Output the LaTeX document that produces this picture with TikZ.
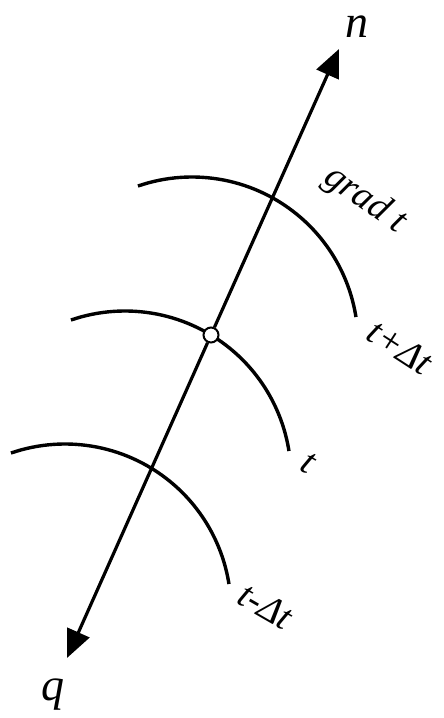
\documentclass[tikz,border=0pt]{standalone}
\usepackage{fontspec}
\setmainfont{Liberation Serif}
\usetikzlibrary{arrows.meta}
\begin{document}
\begin{tikzpicture}[x=1pt,y=1pt,
  curve/.style={line width=3.4pt},
  axisline/.style={line width=3.2pt,-{Triangle[length=28pt,width=24pt]}},
  lbl/.style={font=\fontsize{38}{44}\selectfont\itshape,inner sep=0pt},
  biglbl/.style={font=\fontsize{46}{52}\selectfont\itshape,inner sep=0pt},
  pt/.style={circle,draw,fill=white,line width=2pt,minimum size=15pt,inner sep=0pt}]
\useasboundingbox (0,0) rectangle (444,718);
% arcs
\coordinate (c1) at (192,375);
\coordinate (c2) at (125,241);
\coordinate (c3) at (65,108);
\draw[curve] ([shift={(109:166)}]c1) arc[start angle=109,end angle=9,radius=166];
\draw[curve] ([shift={(109:166)}]c2) arc[start angle=109,end angle=9,radius=166];
\draw[curve] ([shift={(109:166)}]c3) arc[start angle=109,end angle=9,radius=166];
% axis
\coordinate (ntip) at (339,669);
\coordinate (qtip) at (67,60);
\node[pt] (p) at (211,383) {};
\draw[axisline] (p) -- (ntip);
\draw[axisline] (p) -- (qtip);
% labels
\node[biglbl] (n) at (357,691) {n};
\node[biglbl] (q) at (53,23) {q};
\node[lbl,rotate=-35] (grad) at (365,518) {grad t};
\node[lbl,rotate=-33] (tp) at (400,371) {t+Δt};
\node[lbl,rotate=-30] (t) at (308,255) {t};
\node[lbl,rotate=-30] (tm) at (266,112) {t-Δt};
\end{tikzpicture}
\end{document}
